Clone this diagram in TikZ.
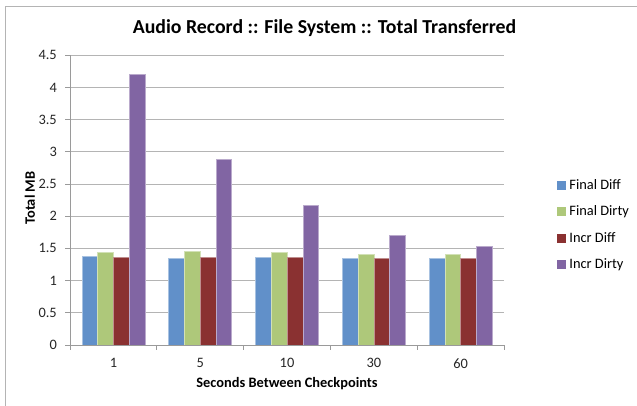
\documentclass[tikz,border=0pt]{standalone}
\usepackage{fontspec}
\setmainfont{Carlito}
\usetikzlibrary{positioning}

\definecolor{finaldiff}{HTML}{6190C9}
\definecolor{finaldirty}{HTML}{AEC87A}
\definecolor{incrdiff}{HTML}{8A3131}
\definecolor{incrdirty}{HTML}{8165A3}
\definecolor{gridgray}{HTML}{B4B4B4}
\definecolor{axisgray}{HTML}{9A9A9A}

\tikzset{
  gridline/.style={draw=gridgray, line width=1pt},
  axisline/.style={draw=axisgray, line width=1pt},
  bar/.style={fill=#1, draw=#1!55!white, line width=0.6pt},
  ticklabel/.style={font=\fontsize{14.4}{16}\selectfont, text=black!85, inner sep=0pt},
  axistitle/.style={font=\fontsize{14.4}{16}\selectfont\bfseries, inner sep=0pt},
  legkey/.style={fill=#1, minimum size=9pt, inner sep=0pt},
  legtext/.style={font=\fontsize{14.4}{16}\selectfont, inner sep=0pt, anchor=west},
}

\begin{document}
\begin{tikzpicture}[x=1pt,y=1pt]
		\useasboundingbox (0,0) rectangle (637,405);
		\draw[gridgray, line width=1pt] (5,-10) rectangle (645,398);
		
		\node[font=\fontsize{19.8}{23}\selectfont\bfseries, inner sep=0pt] (title) at (324.5,377) {Audio Record :: File System :: Total Transferred};
		
		\begin{scope}[shift={(70,60)}, x=86.8pt, y=64.4pt]
		% grid
		\draw[gridline] (0,0.5) -- (5,0.5);
		\draw[gridline] (0,1) -- (5,1);
		\draw[gridline] (0,1.5) -- (5,1.5);
		\draw[gridline] (0,2) -- (5,2);
		\draw[gridline] (0,2.5) -- (5,2.5);
		\draw[gridline] (0,3) -- (5,3);
		\draw[gridline] (0,3.5) -- (5,3.5);
		\draw[gridline] (0,4) -- (5,4);
		\draw[gridline] (0,4.5) -- (5,4.5);
		
		% bars
		\draw[bar=finaldiff] (0.136,0) rectangle (0.318,1.37);
		\draw[bar=finaldirty] (0.318,0) rectangle (0.5,1.44);
		\draw[bar=incrdiff] (0.5,0) rectangle (0.682,1.355);
		\draw[bar=incrdirty] (0.682,0) rectangle (0.864,4.21);
		
		\draw[bar=finaldiff] (1.136,0) rectangle (1.318,1.35);
		\draw[bar=finaldirty] (1.318,0) rectangle (1.5,1.45);
		\draw[bar=incrdiff] (1.5,0) rectangle (1.682,1.36);
		\draw[bar=incrdirty] (1.682,0) rectangle (1.864,2.88);
		
		\draw[bar=finaldiff] (2.136,0) rectangle (2.318,1.355);
		\draw[bar=finaldirty] (2.318,0) rectangle (2.5,1.44);
		\draw[bar=incrdiff] (2.5,0) rectangle (2.682,1.355);
		\draw[bar=incrdirty] (2.682,0) rectangle (2.864,2.17);
		
		\draw[bar=finaldiff] (3.136,0) rectangle (3.318,1.35);
		\draw[bar=finaldirty] (3.318,0) rectangle (3.5,1.41);
		\draw[bar=incrdiff] (3.5,0) rectangle (3.682,1.35);
		\draw[bar=incrdirty] (3.682,0) rectangle (3.864,1.71);
		
		\draw[bar=finaldiff] (4.136,0) rectangle (4.318,1.35);
		\draw[bar=finaldirty] (4.318,0) rectangle (4.5,1.41);
		\draw[bar=incrdiff] (4.5,0) rectangle (4.682,1.35);
		\draw[bar=incrdirty] (4.682,0) rectangle (4.864,1.53);
		
		% axes
		\draw[axisline] (0,0) -- (0,4.5);
		\draw[axisline] (0,0) -- (5,0);
		\draw[axisline] (0,0) -- ++(-5pt,0);
		\draw[axisline] (0,0.5) -- ++(-5pt,0);
		\draw[axisline] (0,1) -- ++(-5pt,0);
		\draw[axisline] (0,1.5) -- ++(-5pt,0);
		\draw[axisline] (0,2) -- ++(-5pt,0);
		\draw[axisline] (0,2.5) -- ++(-5pt,0);
		\draw[axisline] (0,3) -- ++(-5pt,0);
		\draw[axisline] (0,3.5) -- ++(-5pt,0);
		\draw[axisline] (0,4) -- ++(-5pt,0);
		\draw[axisline] (0,4.5) -- ++(-5pt,0);
		\draw[axisline] (0,0) -- ++(0,-5pt);
		\draw[axisline] (1,0) -- ++(0,-5pt);
		\draw[axisline] (2,0) -- ++(0,-5pt);
		\draw[axisline] (3,0) -- ++(0,-5pt);
		\draw[axisline] (4,0) -- ++(0,-5pt);
		\draw[axisline] (5,0) -- ++(0,-5pt);
		
		\node[ticklabel, anchor=east] (y0) at ([xshift=-13pt]0,0) {0};
		\node[ticklabel, anchor=east] (y05) at ([xshift=-13pt]0,0.5) {0.5};
		\node[ticklabel, anchor=east] (y1) at ([xshift=-13pt]0,1) {1};
		\node[ticklabel, anchor=east] (y15) at ([xshift=-13pt]0,1.5) {1.5};
		\node[ticklabel, anchor=east] (y2) at ([xshift=-13pt]0,2) {2};
		\node[ticklabel, anchor=east] (y25) at ([xshift=-13pt]0,2.5) {2.5};
		\node[ticklabel, anchor=east] (y3) at ([xshift=-13pt]0,3) {3};
		\node[ticklabel, anchor=east] (y35) at ([xshift=-13pt]0,3.5) {3.5};
		\node[ticklabel, anchor=east] (y4) at ([xshift=-13pt]0,4) {4};
		\node[ticklabel, anchor=east] (y45) at ([xshift=-13pt]0,4.5) {4.5};
		
		\node[ticklabel] (x1) at ([yshift=-18.3pt]0.5,0) {1};
		\node[ticklabel] (x5) at ([yshift=-18.3pt]1.5,0) {5};
		\node[ticklabel] (x10) at ([yshift=-18.3pt]2.5,0) {10};
		\node[ticklabel] (x30) at ([yshift=-18.3pt]3.5,0) {30};
		\node[ticklabel] (x60) at ([yshift=-18.3pt]4.5,0) {60};
		
		\node[axistitle] (xtitle) at ([yshift=-38.3pt]2.5,0) {Seconds Between Checkpoints};
		\end{scope}
		
		\node[axistitle, rotate=90] (ytitle) at (30,207) {Total MB};
		
		% legend
		\node[legkey=finaldiff] (kfd) at (561,220) {};
		\node[legtext, right=3.5pt of kfd] (lfd) {Final Diff};
		\node[legkey=finaldirty] (kfy) at (561,193.5) {};
		\node[legtext, right=3.5pt of kfy] (lfy) {Final Dirty};
		\node[legkey=incrdiff] (kid) at (561,167) {};
		\node[legtext, right=3.5pt of kid] (lid) {Incr Diff};
		\node[legkey=incrdirty] (kiy) at (561,140.5) {};
		\node[legtext, right=3.5pt of kiy] (liy) {Incr Dirty};
\end{tikzpicture}
\end{document}
